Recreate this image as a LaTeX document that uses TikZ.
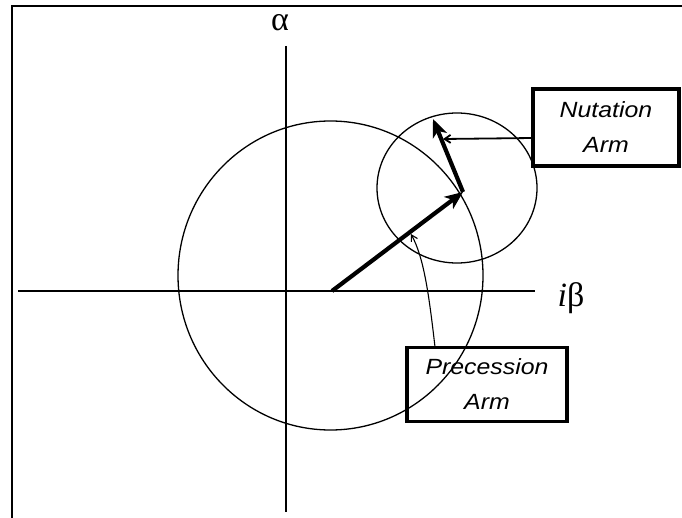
\documentclass[tikz,border=0pt]{standalone}
\usepackage{fontspec}
\usepackage{graphicx}
\setmainfont{Liberation Sans}
\newfontfamily\serifgreek{Liberation Serif}
\usetikzlibrary{arrows.meta}
\begin{document}
\begin{tikzpicture}[x=1pt,y=-1pt,
  frame/.style={line width=2.4pt},
  axis/.style={line width=1.9pt},
  orbit/.style={line width=1.3pt},
  arm/.style={line width=4.2pt, -{Stealth[length=18pt,width=15pt,inset=5pt]}},
  labelbox/.style={draw, line width=3.2pt, align=center, inner sep=0pt,
    font=\fontsize{22}{35}\selectfont\itshape},
  pointer/.style={line width=1.8pt, -{Straight Barb[length=6pt,width=8pt]}},
  thinpointer/.style={line width=1.1pt, -{Straight Barb[length=6pt,width=7pt]}},
  axlabel/.style={inner sep=0pt, font=\fontsize{34}{36}\selectfont\serifgreek}
]
\useasboundingbox (0,0) rectangle (682,518);
% frame
\coordinate (fbl) at (12,518);
\coordinate (ftl) at (12,6);
\coordinate (ftr) at (682,6);
\draw[frame] (fbl) -- (ftl) -- (ftr);
% axes
\coordinate (ytop) at (286,46);
\coordinate (ybot) at (286,512);
\coordinate (xl) at (18,291);
\coordinate (xr) at (535,291);
\draw[axis] (ytop) -- (ybot);
\draw[axis] (xl) -- (xr);
\node[axlabel] (alpha) at (280,23) {α};
\node[axlabel] (ibeta) at (571,298) {\textit{i}β};
% orbits
\coordinate (C1) at (330.5,275.5);
\coordinate (C2) at (457,188);
\draw[orbit] (C1) ellipse [x radius=152.5, y radius=154.5];
\draw[orbit] (C2) ellipse [x radius=80, y radius=75];
% arms
\coordinate (O) at (332,291);
\coordinate (P) at (463,192);
\coordinate (Q) at (433,119);
\draw[arm] (O) -- (P);
\draw[arm] (P) -- (Q);
% label boxes
\node[labelbox, minimum width=146pt, minimum height=77pt] (nbox) at (606,127.5)
  {\scalebox{1.13}[1]{Nutation}\\\scalebox{1.13}[1]{Arm}};
\node[labelbox, minimum width=160pt, minimum height=74pt] (pbox) at (487,384.5)
  {\scalebox{1.13}[1]{Precession}\\\scalebox{1.13}[1]{Arm}};
% pointers
\coordinate (nfrom) at (533,138);
\coordinate (ntip) at (443,139);
\draw[pointer] (nfrom) -- (ntip);
\coordinate (pfrom) at (435,347);
\coordinate (ptip) at (411,234);
\draw[thinpointer] (pfrom) .. controls (429,295) and (424,258) .. (ptip);
\end{tikzpicture}
\end{document}
